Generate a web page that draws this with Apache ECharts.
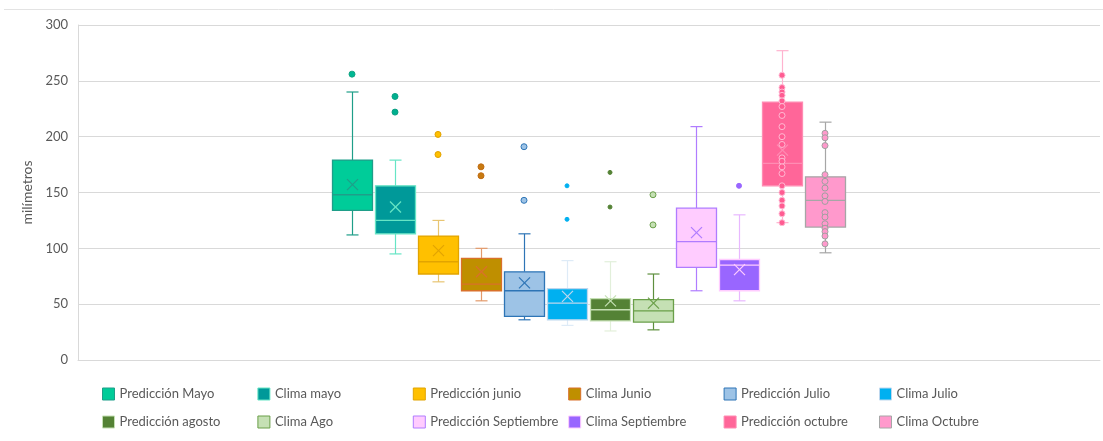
<!DOCTYPE html>
<html>
<head>
<meta charset="utf-8">
<script src="https://cdn.jsdelivr.net/npm/echarts@6/dist/echarts.min.js"></script>
<style>
  html, body { margin: 0; padding: 0; background: #fff; }
  #chart { width: 1103px; height: 441px; }
</style>
</head>
<body>
<div id="chart"></div>
<script>
// series / categories
var seriesNames = ['Predicción Mayo', 'Clima mayo', 'Predicción junio', 'Clima Junio',
  'Predicción Julio', 'Clima Julio', 'Predicción agosto', 'Clima Ago',
  'Predicción Septiembre', 'Clima Septiembre', 'Predicción octubre', 'Clima Octubre'];

// box statistics (mm)
var boxMin    = [112, 95, 70, 53, 36, 31, 26, 27, 62, 53, 123, 96];
var boxQ1     = [134, 113, 77, 62, 39, 36, 35, 34, 83, 62, 156, 119];
var boxMedian = [148, 125, 88, 68, 62, 51, 45, 44, 106, 85, 176, 143];
var boxQ3     = [179, 156, 111, 91, 79, 64, 55, 54, 136, 90, 231, 164];
var boxMax    = [240, 179, 125, 100, 113, 89, 88, 77, 209, 130, 277, 213];
var boxMean   = [157, 137, 98, 79, 69, 57, 53, 51, 114, 81, 188, null];

// outliers / shown points
var pointValues = [
  [256],
  [236, 222],
  [202, 184],
  [173, 165],
  [191, 143],
  [156, 126],
  [168, 137],
  [148, 121],
  [],
  [156],
  [255, 244, 240, 237, 232, 227, 219, 209, 200, 193, 181, 178, 173, 167, 156, 150, 143, 138, 131, 123],
  [203, 199, 192, 166, 160, 154, 147, 142, 132, 128, 122, 118, 115, 111, 104]
];

var yTicks = [0, 50, 100, 150, 200, 250, 300];

// colores estilo Excel
var styles = [
  { fill: '#00CC99', edge: '#1f9e89', whisker: '#1f9e89', dot: '#00b894', dotBorder: '#13a383', size: 6 },
  { fill: '#009999', edge: '#66e5c5', whisker: '#66e5c5', dot: '#00b08f', dotBorder: '#0d9f83', size: 6 },
  { fill: '#FFC000', edge: '#e2a400', whisker: '#e8c572', dot: '#ffc000', dotBorder: '#e0a000', size: 6 },
  { fill: '#BF8F00', edge: '#d9712a', whisker: '#e39a6b', dot: '#c77a10', dotBorder: '#c06a10', size: 6 },
  { fill: '#9DC3E6', edge: '#2E75B6', whisker: '#2E75B6', dot: '#9dc3e6', dotBorder: '#2e75b6', size: 6 },
  { fill: '#00B0F0', edge: '#bdd7ee', whisker: '#deebf7', dot: '#00b0f0', dotBorder: '#00b0f0', size: 4 },
  { fill: '#548235', edge: '#c5e0b4', whisker: '#e2efda', dot: '#548235', dotBorder: '#548235', size: 4 },
  { fill: '#C5E0B4', edge: '#6a9f49', whisker: '#5e8f3e', dot: '#c5e0b4', dotBorder: '#6a9f49', size: 6 },
  { fill: '#FFCCFF', edge: '#b07cff', whisker: '#b07cff', dot: '#ffccff', dotBorder: '#b07cff', size: 6 },
  { fill: '#9966FF', edge: '#ffccff', whisker: '#e8b8ff', dot: '#9966ff', dotBorder: '#9966ff', size: 5 },
  { fill: '#FF6699', edge: '#ff8cb3', whisker: '#ffb3cf', dot: '#ff5c92', dotBorder: '#ffb8d2', size: 6 },
  { fill: '#FF99CC', edge: '#a6a6a6', whisker: '#a6a6a6', dot: '#ff99cc', dotBorder: '#a0a0a0', size: 6 }
];

var myChart = echarts.init(document.getElementById('chart'));

function makeRender(k) {
  var st = styles[k];
  return function (params, api) {
    var x = api.value(0);
    var unit = api.size([1, 0])[0];
    var half = unit * 0.465;
    var cap = unit * 0.14;
    var pMin = api.coord([x, api.value(1)]);
    var pQ1 = api.coord([x, api.value(2)]);
    var pMed = api.coord([x, api.value(3)]);
    var pQ3 = api.coord([x, api.value(4)]);
    var pMax = api.coord([x, api.value(5)]);
    var cx = Math.round(pMin[0]) + 0.5;
    var w = { stroke: st.whisker, lineWidth: 1.2, fill: null };
    var children = [
      { type: 'line', shape: { x1: cx, y1: pMax[1], x2: cx, y2: pQ3[1] }, style: w },
      { type: 'line', shape: { x1: cx, y1: pQ1[1], x2: cx, y2: pMin[1] }, style: w },
      { type: 'line', shape: { x1: cx - cap, y1: pMax[1], x2: cx + cap, y2: pMax[1] }, style: w },
      { type: 'line', shape: { x1: cx - cap, y1: pMin[1], x2: cx + cap, y2: pMin[1] }, style: w },
      { type: 'rect', shape: { x: cx - half, y: pQ3[1], width: half * 2, height: pQ1[1] - pQ3[1] },
        style: { fill: st.fill, stroke: st.edge, lineWidth: 1.3 } },
      { type: 'line', shape: { x1: cx - half, y1: pMed[1], x2: cx + half, y2: pMed[1] },
        style: { stroke: st.edge, lineWidth: 1.3 } }
    ];
    var mean = api.value(6);
    if (mean != null && !isNaN(mean)) {
      var pm = api.coord([x, mean]);
      var m = 5.5;
      children.push(
        { type: 'line', shape: { x1: cx - m, y1: pm[1] - m, x2: cx + m, y2: pm[1] + m }, style: { stroke: st.edge, lineWidth: 1.2 } },
        { type: 'line', shape: { x1: cx - m, y1: pm[1] + m, x2: cx + m, y2: pm[1] - m }, style: { stroke: st.edge, lineWidth: 1.2 } }
      );
    }
    return { type: 'group', children: children };
  };
}

var series = [];
seriesNames.forEach(function (name, k) {
  series.push({
    name: name,
    type: 'custom',
    z: 2,
    itemStyle: { color: styles[k].fill, borderColor: styles[k].edge },
    renderItem: makeRender(k),
    encode: { x: 0, y: [1, 2, 3, 4, 5] },
    data: [[k, boxMin[k], boxQ1[k], boxMedian[k], boxQ3[k], boxMax[k], boxMean[k] == null ? '-' : boxMean[k]]]
  });
});
seriesNames.forEach(function (name, k) {
  if (!pointValues[k].length) return;
  series.push({
    name: name,
    type: 'scatter',
    z: 3,
    symbol: 'circle',
    symbolSize: styles[k].size,
    itemStyle: { color: styles[k].dot, borderColor: styles[k].dotBorder, borderWidth: 1, opacity: 1 },
    data: pointValues[k].map(function (v) { return [k, v]; })
  });
});

// leyenda en 6 columnas x 2 filas
var legends = [];
for (var c = 0; c < 6; c++) {
  legends.push({
    left: 102 + c * 155.4,
    top: 387,
    orient: 'vertical',
    padding: 0,
    itemWidth: 12,
    itemHeight: 12,
    itemGap: 14,
    icon: 'rect',
    selectedMode: false,
    textStyle: { color: '#595959', fontFamily: 'Lato', fontSize: 13, lineHeight: 14 },
    data: [c, c + 6].map(function (k) {
      return { name: seriesNames[k], itemStyle: { color: styles[k].fill, borderColor: styles[k].edge, borderWidth: 1 } };
    })
  });
}

myChart.setOption({
  animation: false,
  textStyle: { fontFamily: 'Lato' },
  grid: { left: 78, right: 3, top: 25, bottom: 81 },
  legend: legends,
  graphic: [{
    type: 'line',
    shape: { x1: 4, y1: 9.5, x2: 1103, y2: 9.5 },
    style: { stroke: '#e3e3e3', lineWidth: 1 }
  }],
  xAxis: {
    type: 'value',
    min: -6.372,
    max: 17.395,
    axisLine: { show: true, onZero: false, lineStyle: { color: '#d9d9d9' } },
    axisTick: { show: false },
    axisLabel: { show: false },
    splitLine: { show: false }
  },
  yAxis: {
    type: 'value',
    min: yTicks[0],
    max: yTicks[yTicks.length - 1],
    interval: 50,
    name: 'milímetros',
    nameLocation: 'middle',
    nameRotate: 90,
    nameGap: 42,
    nameTextStyle: { color: '#595959', fontSize: 14, fontFamily: 'Lato' },
    axisLine: { show: true, onZero: false, lineStyle: { color: '#d9d9d9' } },
    axisTick: { show: false },
    axisLabel: { color: '#595959', fontSize: 13, margin: 10, fontFamily: 'Lato' },
    splitLine: { lineStyle: { color: '#d9d9d9' } }
  },
  series: series
});
</script>
</body>
</html>
